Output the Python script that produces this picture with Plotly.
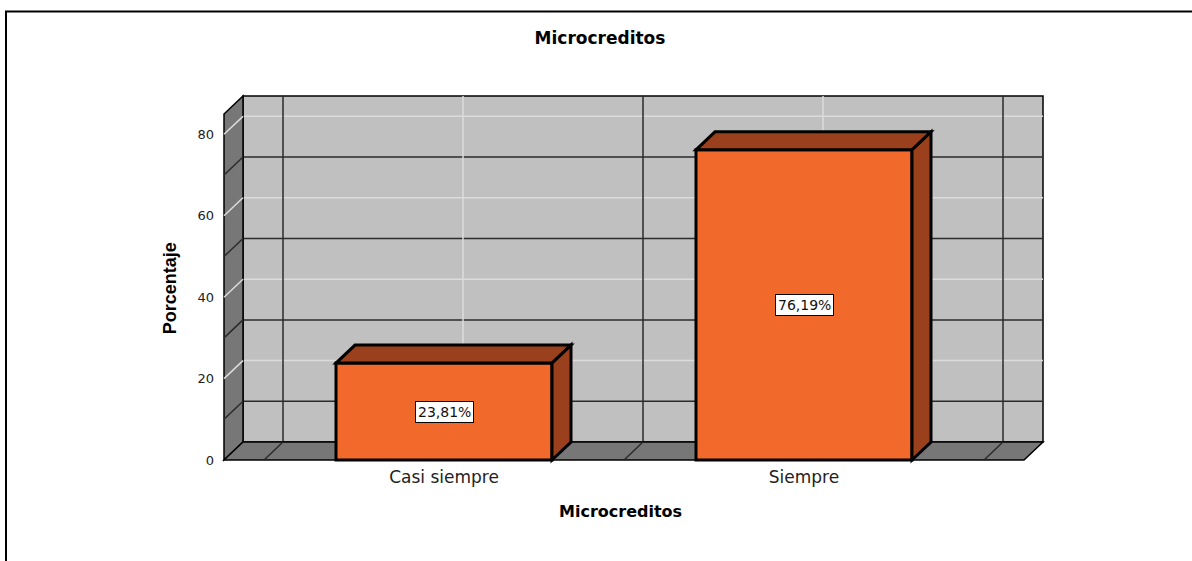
import plotly.graph_objects as go

# ---- data ----
categories = ["Casi siempre", "Siempre"]
porcentajes = [23.81, 76.19]
y_ticks = [0, 20, 40, 60, 80]
grid_steps = [10, 20, 30, 40, 50, 60, 70, 80]

# ---- styling / geometry of the 3D box ----
W, H = 1192, 561
PX_PER_X = 360.0          # pixels per category unit
PX_PER_Y = 4.075          # pixels per percentage point
DEPTH_PX = (19, 18)       # depth offset of the back wall, in pixels
dx = DEPTH_PX[0] / PX_PER_X
dy = DEPTH_PX[1] / PX_PER_Y

bar_w = 0.6
x_left = -0.5 - 40 / PX_PER_X
x_right = len(categories) - 0.5 + 40 / PX_PER_X
y_top = 85.0
pad_x = 5 / PX_PER_X
pad_y = 5 / PX_PER_Y

x_range = [x_left - pad_x, x_right + dx + pad_x]
y_range = [-pad_y, y_top + dy + pad_y]

# plot-area placement in pixels: front-plane left edge at 224, zero line at y=460
plot_left = 224 - 5
plot_w = (x_range[1] - x_range[0]) * PX_PER_X
plot_bottom = 460 + 5
plot_h = (y_range[1] - y_range[0]) * PX_PER_Y
margin = dict(l=plot_left, r=W - plot_left - plot_w, b=H - plot_bottom, t=plot_bottom - plot_h)


def paper_x(px):
    return (px - plot_left) / plot_w


def paper_y(py):
    return (plot_bottom - py) / plot_h


WALL = "#C0C0C0"
SIDE = "#777777"
DARK_GRID = "#2b2b2b"
LIGHT_GRID = "#DCDCDC"
FRONT = "#F2692C"
SHADE = "#9A401C"

shapes = []


def poly(points, fill, line_color="black", width=1.5, layer="below"):
    path = "M " + " L ".join(f"{px},{py}" for px, py in points) + " Z"
    shapes.append(dict(type="path", path=path, xref="x", yref="y",
                       fillcolor=fill, line=dict(color=line_color, width=width),
                       layer=layer))


def seg(x0, y0, x1, y1, color, width=1.5, layer="below"):
    shapes.append(dict(type="line", x0=x0, y0=y0, x1=x1, y1=y1, xref="x", yref="y",
                       line=dict(color=color, width=width), layer=layer))


# back wall
poly([(x_left + dx, dy), (x_right + dx, dy), (x_right + dx, y_top + dy), (x_left + dx, y_top + dy)], WALL)

# back-wall horizontal grid lines (odd tens dark, even tens light)
for v in grid_steps:
    col = LIGHT_GRID if v % 20 == 0 else DARK_GRID
    seg(x_left + dx, v + dy, x_right + dx, v + dy, col)

# back-wall vertical grid lines: dark at category boundaries, light at centres
n = len(categories)
boundaries = [i - 0.5 for i in range(n + 1)]
for b in boundaries:
    seg(b + dx, dy, b + dx, y_top + dy, DARK_GRID)
for i in range(n):
    seg(i + dx, dy, i + dx, y_top + dy, LIGHT_GRID)

# left side wall with its diagonal grid lines
poly([(x_left, 0), (x_left + dx, dy), (x_left + dx, y_top + dy), (x_left, y_top)], SIDE)
for v in grid_steps:
    col = LIGHT_GRID if v % 20 == 0 else DARK_GRID
    seg(x_left, v, x_left + dx, v + dy, col)

# floor with diagonals at the category boundaries
poly([(x_left, 0), (x_right, 0), (x_right + dx, dy), (x_left + dx, dy)], SIDE)
for b in boundaries:
    seg(b, 0, b + dx, dy, DARK_GRID)

# top and side faces of each bar
for i, v in enumerate(porcentajes):
    l, r = i - bar_w / 2, i + bar_w / 2
    poly([(l, v), (r, v), (r + dx, v + dy), (l + dx, v + dy)], SHADE, width=3, layer="above")
    poly([(r, 0), (r + dx, dy), (r + dx, v + dy), (r, v)], SHADE, width=3, layer="above")

# outer frame around the whole chart
shapes.append(dict(type="rect", xref="paper", yref="paper",
                   x0=paper_x(6), x1=paper_x(W + 10), y0=paper_y(H + 10), y1=paper_y(11),
                   line=dict(color="black", width=2), fillcolor="rgba(0,0,0,0)", layer="above"))

fig = go.Figure()
fig.add_trace(go.Bar(
    x=list(range(n)), y=porcentajes, width=bar_w,
    marker=dict(color=FRONT, line=dict(color="black", width=3)),
    hoverinfo="skip", showlegend=False,
))

annotations = []
for i, v in enumerate(porcentajes):
    annotations.append(dict(
        x=i, y=v / 2, xref="x", yref="y", showarrow=False,
        xanchor="center", yanchor="middle",
        text=f"{v:.2f}".replace(".", ",") + "%",
        font=dict(family="DejaVu Sans", size=14, color="#111"),
        bgcolor="white", bordercolor="black", borderwidth=1, borderpad=2,
    ))

annotations.append(dict(
    x=paper_x(620), y=paper_y(512), xref="paper", yref="paper", showarrow=False,
    xanchor="center", yanchor="middle",
    text="<b>Microcreditos</b>", font=dict(family="DejaVu Sans", size=16, color="black"),
))
annotations.append(dict(
    x=paper_x(170), y=paper_y(288), xref="paper", yref="paper", showarrow=False,
    xanchor="center", yanchor="middle",
    text="<b>Porcentaje</b>", textangle=-90,
    font=dict(family="Liberation Sans Narrow, Liberation Sans", size=18, color="black"),
))

fig.update_layout(
    width=W, height=H, margin=margin,
    paper_bgcolor="white", plot_bgcolor="rgba(0,0,0,0)",
    title=dict(text="<b>Microcreditos</b>", x=600 / W, xanchor="center",
               y=1 - 38 / H, yanchor="middle", yref="container",
               font=dict(family="DejaVu Sans", size=17, color="black")),
    xaxis=dict(range=x_range, tickvals=list(range(n)), ticktext=categories,
               showgrid=False, zeroline=False, showline=False, ticks="",
               tickfont=dict(family="DejaVu Sans", size=17, color="#222")),
    yaxis=dict(range=y_range, tickvals=y_ticks, showgrid=False, zeroline=False,
               showline=False, ticks="", ticklabelstandoff=4,
               tickfont=dict(family="DejaVu Sans", size=13, color="#222")),
    shapes=shapes, annotations=annotations,
)

fig.write_html("out.html")
